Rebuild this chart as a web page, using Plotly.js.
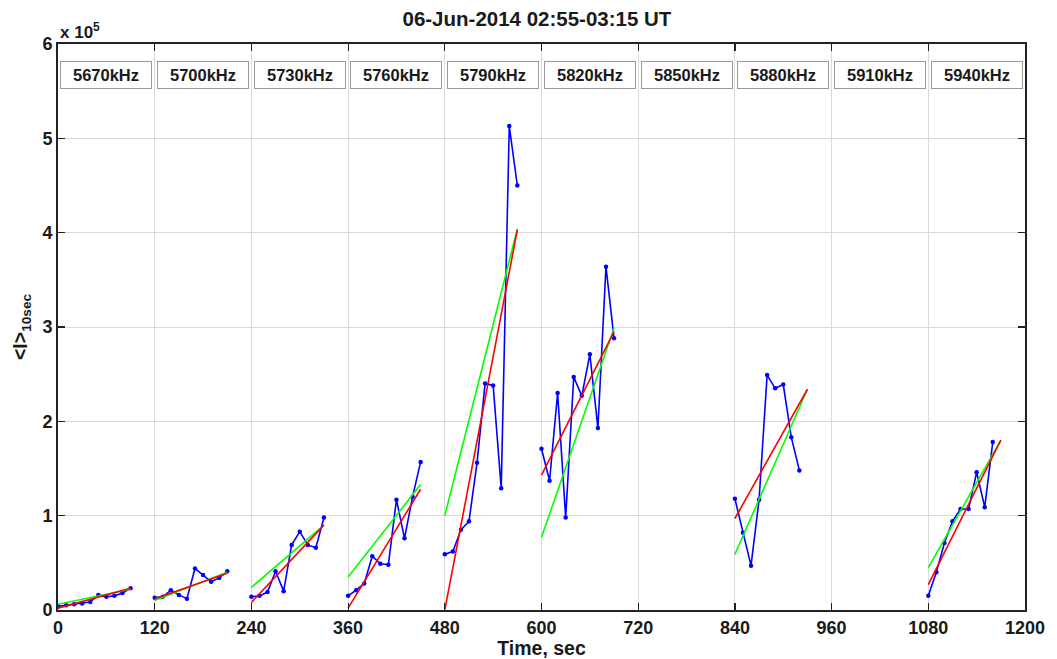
<!DOCTYPE html>
<html>
<head>
<meta charset="utf-8">
<script src="https://cdn.plot.ly/plotly-3.0.1.min.js"></script>
<style>html,body{margin:0;padding:0;background:#fff;}#chart{width:1057px;height:659px;}</style>
</head>
<body>
<div id="chart"></div>
<script>
// Frequencies (one 120-s window each)
const segStarts = [0, 120, 240, 360, 480, 600, 720, 840, 960, 1080];
const freqLabels = ['5670kHz','5700kHz','5730kHz','5760kHz','5790kHz','5820kHz','5850kHz','5880kHz','5910kHz','5940kHz'];

// <I>_10sec samples, units of 1e5
const t5670 = [0,10,20,30,40,50,60,70,80,90];
const v5670 = [0.04,0.05,0.06,0.07,0.085,0.16,0.14,0.15,0.18,0.23];
const t5700 = [120,130,140,150,160,170,180,190,200,210];
const v5700 = [0.13,0.14,0.21,0.16,0.12,0.44,0.37,0.30,0.34,0.41];
const t5730 = [240,250,260,270,280,290,300,310,320,330];
const v5730 = [0.14,0.15,0.19,0.41,0.20,0.69,0.83,0.69,0.66,0.98];
const t5760 = [360,370,380,390,400,410,420,430,440,450];
const v5760 = [0.15,0.21,0.28,0.57,0.49,0.48,1.17,0.76,1.20,1.57];
const t5790 = [480,490,500,510,520,530,540,550,560,570];
const v5790 = [0.59,0.62,0.85,0.94,1.56,2.40,2.38,1.29,5.13,4.50];
const t5820 = [600,610,620,630,640,650,660,670,680,690];
const v5820 = [1.71,1.37,2.30,0.98,2.47,2.27,2.71,1.93,3.64,2.88];
const t5880 = [840,850,860,870,880,890,900,910,920];
const v5880 = [1.18,0.82,0.47,1.17,2.49,2.35,2.39,1.83,1.48];
const t5940 = [1080,1090,1100,1110,1120,1130,1140,1150,1160];
const v5940 = [0.15,0.40,0.71,0.94,1.07,1.07,1.46,1.09,1.78];

// Fit lines: [t start, t end] and [value start, value end]
const fitT = {
  f5670:[0,90], f5700:[120,210], f5730:[240,330], f5760:[360,450],
  f5790:[480,570], f5820:[600,690], f5880:[840,930], f5940:[1080,1170]
};
const redFit = {
  f5670:[0.02,0.23], f5700:[0.12,0.39], f5730:[0.08,0.90], f5760:[0.02,1.28],
  f5790:[0.00,4.03], f5820:[1.43,2.95], f5880:[0.97,2.34], f5940:[0.27,1.80]
};
const greenFit = {
  f5670:[0.06,0.22], f5700:[0.10,0.40], f5730:[0.24,0.90], f5760:[0.35,1.33],
  f5790:[1.00,4.04], f5820:[0.77,2.99], f5880:[0.59,2.34], f5940:[0.45,1.80]
};

const xTicks = [0,120,240,360,480,600,720,840,960,1080,1200];
const yTicks = [0,1,2,3,4,5,6];

// ---- build traces ----
const sampleSets = [[t5670,v5670],[t5700,v5700],[t5730,v5730],[t5760,v5760],
                    [t5790,v5790],[t5820,v5820],[t5880,v5880],[t5940,v5940]];
function joinSets(sets){
  const x=[], y=[];
  sets.forEach(([tx,ty],i)=>{ if(i){x.push(null);y.push(null);} x.push(...tx); y.push(...ty); });
  return {x,y};
}
function fitSets(fit){
  return Object.keys(fitT).map(k=>[fitT[k], fit[k]]);
}
const blue = joinSets(sampleSets);
const green = joinSets(fitSets(greenFit));
const red = joinSets(fitSets(redFit));

const traces = [
  {x:blue.x, y:blue.y, type:'scatter', mode:'lines+markers', connectgaps:false,
   line:{color:'rgb(0,0,255)', width:1.6}, marker:{color:'rgb(0,0,255)', size:4.5}},
  {x:green.x, y:green.y, type:'scatter', mode:'lines', connectgaps:false,
   line:{color:'rgb(0,255,0)', width:1.6}},
  {x:red.x, y:red.y, type:'scatter', mode:'lines', connectgaps:false,
   line:{color:'rgb(255,0,0)', width:1.6}}
];

const FAM = '"Liberation Sans", Arial, sans-serif';
const tickFont = {family:FAM, size:18, color:'#1a1a1a', weight:700};
const titleFont = {family:FAM, size:19.5, color:'#1a1a1a', weight:700};

const annotations = segStarts.map((s,i)=>({
  x: s + 60, xref:'x', y: 0.945, yref:'paper', yanchor:'middle', xanchor:'center',
  text: freqLabels[i], showarrow:false,
  font:{family:FAM, size:16.5, color:'#1a1a1a', weight:700},
  bgcolor:'#fff', bordercolor:'#999', borderwidth:1, width:88, height:24, borderpad:1
}));
annotations.push({
  x:0, xref:'paper', y:1, yref:'paper', xanchor:'left', yanchor:'bottom', xshift:0, yshift:0,
  text:'x 10<sup>5</sup>', showarrow:false,
  font:{family:FAM, size:17, color:'#1a1a1a', weight:700}
});

const layout = {
  width:1057, height:659,
  margin:{l:58, r:32, t:44, b:49},
  paper_bgcolor:'#fff', plot_bgcolor:'#fff',
  showlegend:false,
  title:{text:'06-Jun-2014 02:55-03:15 UT', x:0.508, xanchor:'center', y:0.972, yanchor:'middle',
         font:{family:FAM, size:20.5, color:'#1a1a1a', weight:700}},
  xaxis:{range:[0,1200], tickvals:xTicks, ticktext:xTicks.map(String), tickfont:tickFont,
         ticks:'inside', ticklen:7, tickwidth:1.2, tickcolor:'#222',
         showline:true, linecolor:'#222', linewidth:2, mirror:'ticks',
         showgrid:true, gridcolor:'#d9d9d9', gridwidth:1, zeroline:false,
         title:{text:'Time, sec', font:titleFont, standoff:0}},
  yaxis:{range:[0,6], tickvals:yTicks, ticktext:yTicks.map(String), tickfont:tickFont,
         ticks:'inside', ticklen:7, tickwidth:1.2, tickcolor:'#222',
         showline:true, linecolor:'#222', linewidth:2, mirror:'ticks',
         showgrid:true, gridcolor:'#d9d9d9', gridwidth:1, zeroline:false,
         title:{text:'&lt;I&gt;<sub>10sec</sub>', font:titleFont, standoff:10}},
  annotations: annotations
};

Plotly.newPlot('chart', traces, layout, {displayModeBar:false, staticPlot:true});
</script>
</body>
</html>
